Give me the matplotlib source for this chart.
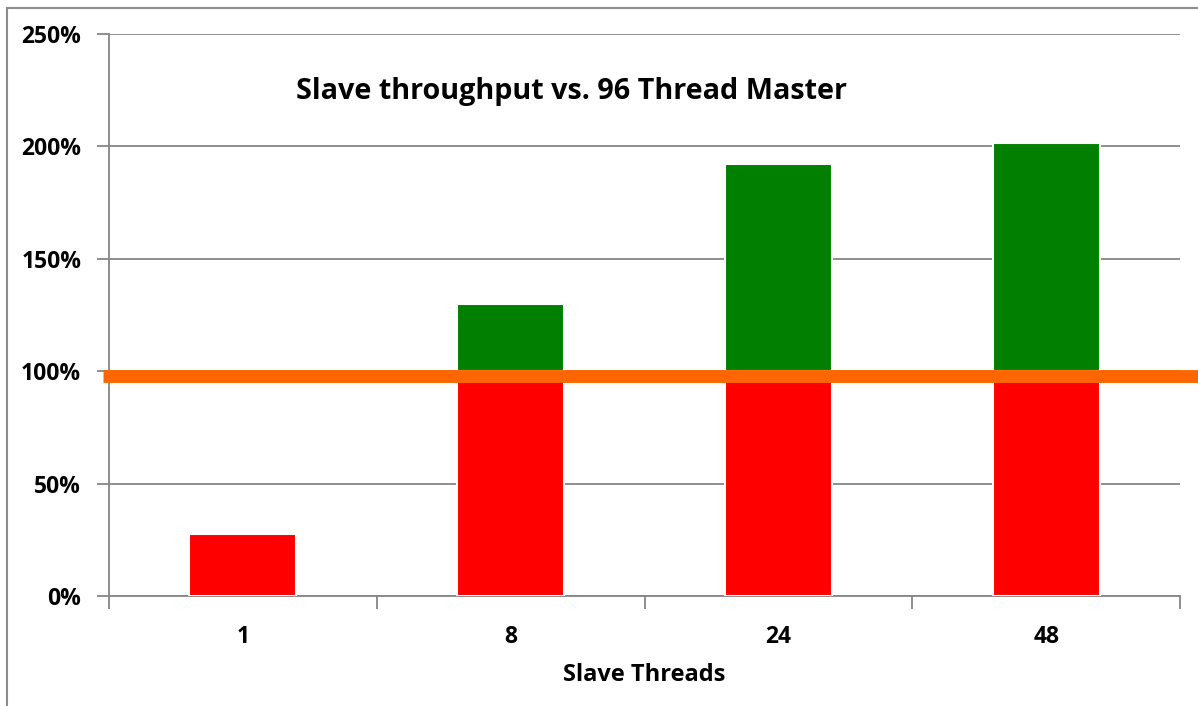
import matplotlib
matplotlib.use("Agg")
import matplotlib.pyplot as plt
from matplotlib.patches import Rectangle

# ---- data ----
categories = ['1', '8', '24', '48']
throughput = [0.275, 1.30, 1.92, 2.015]   # slave throughput relative to master
master_level = 0.98                        # 96-thread master reference line
split_level = 1.0                          # red below, green above
yticks = [0, 0.5, 1.0, 1.5, 2.0, 2.5]
ytick_labels = ['0%', '50%', '100%', '150%', '200%', '250%']
title = 'Slave throughput vs. 96 Thread Master'
xlabel = 'Slave Threads'

plt.rcParams['font.family'] = ['Open Sans', 'DejaVu Sans']
plt.rcParams['font.weight'] = 'bold'

W, H = 1198, 706
fig = plt.figure(figsize=(W / 100, H / 100), dpi=100)
ax = fig.add_axes([109 / W, (H - 596) / H, (1180 - 109) / W, (596 - 34) / H])

grey = '#868686'
x = list(range(len(categories)))
red_h = [min(v, split_level) for v in throughput]
gx = [xi for xi, v in zip(x, throughput) if v > split_level]
green_h = [v - split_level for v in throughput if v > split_level]

ax.bar(x, red_h, width=0.4, color='#FF0000', edgecolor='white', linewidth=1.5, zorder=3)
ax.bar(gx, green_h, width=0.4, bottom=split_level, color='#007F00', edgecolor='white',
       linewidth=1.5, zorder=3)

ax.axhline(master_level, xmin=(103 - 109) / (1180 - 109), xmax=(1200 - 109) / (1180 - 109),
           color='#FF6600', linewidth=9.3, clip_on=False, zorder=4, solid_capstyle='butt')

ax.set_xlim(-0.5, len(categories) - 0.5)
ax.set_ylim(0, 2.5)
ax.set_yticks(yticks)
ax.set_yticklabels(ytick_labels, fontweight='bold')
ax.set_xticks(x)
ax.set_xticklabels(categories, fontweight='bold')
ax.set_xticks([i - 0.5 for i in range(len(categories) + 1)], minor=True)

ax.yaxis.grid(True, color=grey, linewidth=1.3, zorder=0)
ax.set_axisbelow(True)
for s in ['top', 'right']:
    ax.spines[s].set_visible(False)
for s in ['left', 'bottom']:
    ax.spines[s].set_color(grey)
    ax.spines[s].set_linewidth(1.3)

ax.tick_params(axis='y', length=9, width=1.3, color=grey, labelsize=16.5, pad=11)
ax.tick_params(axis='x', which='major', length=0, labelsize=16.5, pad=21)
ax.tick_params(axis='x', which='minor', length=9, width=1.3, color=grey)

fig.text(572 / W, 1 - 91 / H, title, ha='center', va='center', fontsize=20.7, fontweight='bold')
fig.text(644 / W, 1 - 675 / H, xlabel, ha='center', va='center', fontsize=17, fontweight='bold')

# outer chart border
fig.patches.append(Rectangle((7 / W, -0.1), 1.2, (1 - 8 / H) + 0.1, transform=fig.transFigure,
                             fill=False, edgecolor='#8c8c8c', linewidth=1.5))

fig.savefig('out.png', dpi=100)
